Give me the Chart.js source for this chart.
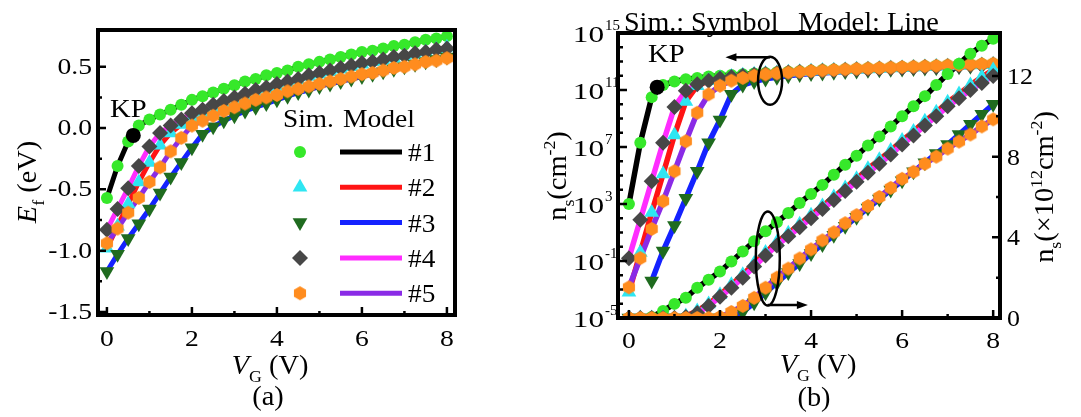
<!DOCTYPE html>
<html>
<head>
<meta charset="utf-8">
<script src="https://cdn.jsdelivr.net/npm/chart.js@4.4.1/dist/chart.umd.min.js"></script>
<style>
  html, body { margin: 0; padding: 0; background: #fff; }
  #wrap { position: relative; width: 1081px; height: 417px; overflow: hidden; background: #fff; }
  canvas { position: absolute; top: 0; }
  #ca { left: 0; }
  #cb { left: 540px; }
</style>
</head>
<body>
<div id="wrap">
  <canvas id="ca" width="540" height="417"></canvas>
  <canvas id="cb" width="541" height="417"></canvas>
</div>
<script>
// gate voltage grid (V)
const vg = [0, 0.25, 0.5, 0.75, 1, 1.25, 1.5, 1.75, 2, 2.25, 2.5, 2.75, 3, 3.25, 3.5, 3.75, 4,
  4.25, 4.5, 4.75, 5, 5.25, 5.5, 5.75, 6, 6.25, 6.5, 6.75, 7, 7.25, 7.5, 7.75, 8];

const devices = ['#1', '#2', '#3', '#4', '#5'];

// (a) Fermi level Ef (eV)
const ef1 = [-0.57, -0.31, -0.11, 0.02, 0.07, 0.11, 0.15, 0.19, 0.23, 0.26, 0.29, 0.32, 0.35, 0.38, 0.40, 0.43, 0.45,
  0.47, 0.50, 0.52, 0.54, 0.56, 0.58, 0.60, 0.62, 0.63, 0.65, 0.67, 0.68, 0.70, 0.72, 0.73, 0.75];
const ef2 = [-0.98, -0.80, -0.62, -0.44, -0.28, -0.14, -0.04, 0.03, 0.08, 0.12, 0.16, 0.20, 0.23, 0.26, 0.29, 0.32, 0.34,
  0.37, 0.39, 0.42, 0.44, 0.46, 0.48, 0.50, 0.52, 0.54, 0.55, 0.57, 0.59, 0.60, 0.62, 0.64, 0.66];
const ef3 = [-1.17, -1.03, -0.90, -0.78, -0.66, -0.53, -0.40, -0.28, -0.16, -0.05, 0.01, 0.06, 0.10, 0.14, 0.17, 0.20, 0.23,
  0.26, 0.29, 0.31, 0.34, 0.36, 0.38, 0.40, 0.42, 0.44, 0.46, 0.48, 0.50, 0.52, 0.54, 0.56, 0.58];
const ef4 = [-0.83, -0.66, -0.49, -0.31, -0.15, -0.04, 0.02, 0.07, 0.12, 0.15, 0.19, 0.22, 0.25, 0.28, 0.31, 0.33, 0.36,
  0.38, 0.40, 0.43, 0.45, 0.47, 0.49, 0.51, 0.53, 0.54, 0.56, 0.58, 0.59, 0.61, 0.62, 0.64, 0.65];
const ef5 = [-0.94, -0.82, -0.69, -0.57, -0.44, -0.32, -0.19, -0.08, 0.02, 0.06, 0.10, 0.14, 0.17, 0.20, 0.23, 0.25, 0.27,
  0.30, 0.32, 0.34, 0.36, 0.38, 0.40, 0.42, 0.44, 0.45, 0.47, 0.49, 0.50, 0.52, 0.54, 0.55, 0.57];

// (b) ns on log axis, written as exponents of 10 (cm^-2)
const nsLog1 = [3.0, 7.3, 10.5, 11.35, 11.6, 11.75, 11.85, 11.95, 12.0, 12.05, 12.1, 12.15, 12.2, 12.24, 12.28, 12.32, 12.36,
  12.4, 12.43, 12.46, 12.49, 12.52, 12.55, 12.58, 12.61, 12.64, 12.67, 12.7, 12.73, 12.76, 12.79, 12.82, 12.85];
const nsLog2 = [-3.2, -0.4, 2.4, 5.1, 7.85, 10.2, 11.3, 11.65, 11.85, 11.95, 12.03, 12.1, 12.15, 12.2, 12.24, 12.28, 12.32,
  12.36, 12.39, 12.42, 12.45, 12.48, 12.51, 12.54, 12.57, 12.6, 12.63, 12.66, 12.69, 12.72, 12.75, 12.78, 12.81];
const nsLog3 = [null, null, -2.4, -0.3, 1.5, 3.4, 5.3, 7.3, 8.9, 10.7, 11.35, 11.6, 11.78, 11.9, 12.0, 12.08, 12.15,
  12.2, 12.25, 12.3, 12.34, 12.38, 12.42, 12.45, 12.48, 12.51, 12.54, 12.57, 12.6, 12.63, 12.66, 12.69, 12.72];
const nsLog4 = [-0.8, 1.9, 4.6, 7.3, 9.8, 10.95, 11.4, 11.65, 11.8, 11.92, 12.0, 12.07, 12.13, 12.18, 12.22, 12.26, 12.3,
  12.34, 12.37, 12.4, 12.43, 12.46, 12.49, 12.52, 12.55, 12.58, 12.61, 12.64, 12.67, 12.7, 12.73, 12.76, 12.79];
const nsLog5 = [-2.85, -0.8, 1.25, 3.2, 5.3, 7.4, 9.4, 10.7, 11.3, 11.65, 11.85, 12.0, 12.1, 12.17, 12.23, 12.28, 12.33,
  12.37, 12.41, 12.45, 12.49, 12.52, 12.55, 12.58, 12.61, 12.64, 12.67, 12.7, 12.73, 12.76, 12.79, 12.82, 12.85];

// (b) ns on linear axis (x10^12 cm^-2)
const nsLin1 = [0, 0, 0.05, 0.35, 0.7, 1.0, 1.5, 1.9, 2.3, 2.8, 3.3, 3.8, 4.3, 4.75, 5.2, 5.7, 6.15,
  6.6, 7.1, 7.6, 8.05, 8.55, 9.0, 9.5, 10.0, 10.5, 11.0, 11.55, 12.1, 12.6, 13.1, 13.5, 13.85];
const nsLin2 = [0, 0, 0, 0, 0, 0.1, 0.35, 0.7, 1.15, 1.65, 2.15, 2.7, 3.25, 3.75, 4.2, 4.65, 5.1,
  5.55, 6.0, 6.45, 6.9, 7.4, 7.85, 8.3, 8.8, 9.25, 9.75, 10.2, 10.7, 11.1, 11.55, 11.95, 12.3];
const nsLin3 = [0, 0, 0, 0, 0, 0, 0, 0, 0, 0, 0.3, 0.75, 1.25, 1.75, 2.25, 2.7, 3.2,
  3.65, 4.1, 4.55, 5.0, 5.45, 5.9, 6.35, 6.8, 7.25, 7.7, 8.15, 8.6, 9.1, 9.6, 10.1, 10.6];
const nsLin4 = [0, 0, 0, 0, 0, 0.05, 0.25, 0.6, 1.05, 1.5, 2.0, 2.55, 3.1, 3.6, 4.05, 4.5, 4.95,
  5.4, 5.85, 6.3, 6.75, 7.2, 7.65, 8.1, 8.6, 9.05, 9.55, 10.0, 10.5, 10.9, 11.3, 11.65, 12.0];
const nsLin5 = [0, 0, 0, 0, 0, 0, 0, 0, 0.05, 0.3, 0.6, 1.0, 1.5, 2.0, 2.45, 2.95, 3.4,
  3.85, 4.25, 4.7, 5.1, 5.55, 6.0, 6.45, 6.9, 7.25, 7.65, 8.0, 8.4, 8.75, 9.1, 9.5, 9.85];

// KP points
const kpVg = [0.62];
const kpEf = [-0.06];
const kpNsLog = [11.2];

// ticks
const vgTicks = [0, 2, 4, 6, 8];
const vgMinor = [1, 3, 5, 7];
const efTicks = [-1.5, -1.0, -0.5, 0.0, 0.5];
const efMinor = [-1.25, -0.75, -0.25, 0.25];
const logTicks = [-5, -1, 3, 7, 11, 15];
const linTicks = [0, 4, 8, 12];
const linMinor = [2, 6, 10];

// annotation loops in panel (b): [vg, value] ; arrows: [vg from, vg to, value]
const loopTop = [3.1, 11.65];
const loopBottom = [3.05, 2.95];
const arrowLeft = [3.1, 2.12, 13.3];
const arrowRight = [3.05, 3.93, 0.64];

const FONT = '"Liberation Serif", "Times New Roman", serif';
const simColors = ['#36e82a', '#2ee6f2', '#1f6b1f', '#474747', '#ff8c1e'];
const modelColors = ['#000000', '#ff1414', '#1422ff', '#ff2cff', '#8a2be6'];

function hexagon(color, r) {
  const c = document.createElement('canvas');
  c.width = c.height = 2 * r + 2;
  const g = c.getContext('2d');
  g.fillStyle = color;
  g.beginPath();
  for (let i = 0; i < 6; i++) {
    const a = Math.PI / 6 + i * Math.PI / 3;
    const x = r + 1 + r * Math.cos(a), y = r + 1 + r * Math.sin(a);
    if (i === 0) g.moveTo(x, y); else g.lineTo(x, y);
  }
  g.closePath();
  g.fill();
  return c;
}

const simShapes = ['circle', 'triangle', 'triangle', 'rectRot', hexagon(simColors[4], 7)];
const simRot = [0, 0, 180, 0, 0];
const simSize = [6, 8.5, 8.5, 8, 7];

function pts(ys, conv) {
  return vg.map((v, i) => ({ x: v, y: ys[i] === null ? null : (conv ? conv(ys[i]) : ys[i]) }));
}
const pow10 = e => Math.pow(10, e);

function rich(ctx, parts, x, y, o) {
  const size = o.size, sx = o.sx || 1.12;
  ctx.save();
  ctx.translate(x, y);
  if (o.rot) ctx.rotate(o.rot);
  ctx.scale(sx, 1);
  ctx.fillStyle = '#000';
  ctx.textBaseline = 'alphabetic';
  ctx.textAlign = 'left';
  const segs = parts.map(p => {
    const t = typeof p === 'string' ? p : p[0];
    const k = typeof p === 'string' ? '' : p[1];
    const small = k === 'sub' || k === 'sup';
    const fs = small ? Math.round(size * 0.62) : size;
    const font = (k === 'i' ? 'italic ' : '') + fs + 'px ' + FONT;
    ctx.font = font;
    return { t, font, w: ctx.measureText(t).width, dy: k === 'sub' ? size * 0.28 : k === 'sup' ? -size * 0.42 : 0 };
  });
  const total = segs.reduce((s, g) => s + g.w, 0);
  let cx = o.align === 'center' ? -total / 2 : o.align === 'right' ? -total : 0;
  segs.forEach(g => { ctx.font = g.font; ctx.fillText(g.t, cx, g.dy); cx += g.w; });
  ctx.restore();
}

function marker(ctx, k, x, y) {
  ctx.fillStyle = simColors[k];
  const opts = { pointStyle: simShapes[k], rotation: simRot[k], radius: simSize[k], borderWidth: 0 };
  if (Chart.helpers && Chart.helpers.drawPoint) {
    Chart.helpers.drawPoint(ctx, opts, x, y);
  } else {
    ctx.beginPath(); ctx.arc(x, y, simSize[k], 0, 2 * Math.PI); ctx.fill();
  }
}

function arrow(ctx, x0, y0, x1, y1) {
  const dir = Math.sign(x1 - x0);
  ctx.beginPath(); ctx.moveTo(x0, y0); ctx.lineTo(x1 - dir * 6, y1); ctx.stroke();
  ctx.beginPath();
  ctx.moveTo(x1, y1);
  ctx.lineTo(x1 - dir * 11, y1 - 4);
  ctx.lineTo(x1 - dir * 11, y1 + 4);
  ctx.closePath(); ctx.fill();
}

function tickLines(ctx, list) {
  ctx.beginPath();
  list.forEach(s => { ctx.moveTo(s[0], s[1]); ctx.lineTo(s[2], s[3]); });
  ctx.stroke();
}

// ---------- panel (a) ----------
const efSeries = [ef1, ef2, ef3, ef4, ef5];
const dsA = [];
efSeries.forEach((ys, k) => dsA.push({
  data: pts(ys), borderColor: modelColors[k], borderWidth: 5, pointRadius: 0,
  showLine: true, tension: 0, order: 20 - k
}));
efSeries.forEach((ys, k) => dsA.push({
  data: pts(ys), showLine: false, pointStyle: simShapes[k], pointRotation: simRot[k],
  pointRadius: simSize[k], pointBackgroundColor: simColors[k], pointBorderWidth: 0, order: 10 - k
}));
dsA.push({
  data: kpVg.map((v, i) => ({ x: v, y: kpEf[i] })), showLine: false,
  pointRadius: 7.5, pointBackgroundColor: '#000', pointBorderWidth: 0, order: 0
});

const frameA = {
  id: 'frameA',
  afterDraw(chart) {
    const ctx = chart.ctx, a = chart.chartArea, xs = chart.scales.x, ys = chart.scales.y;
    ctx.save();
    ctx.strokeStyle = '#000';
    ctx.fillStyle = '#000';
    ctx.lineWidth = 2.5;
    const t = [];
    vgTicks.forEach(v => { const p = xs.getPixelForValue(v); t.push([p, a.bottom, p, a.bottom - 8]); });
    vgMinor.forEach(v => { const p = xs.getPixelForValue(v); t.push([p, a.bottom, p, a.bottom - 4]); });
    efTicks.forEach(v => { const p = ys.getPixelForValue(v); t.push([a.left, p, a.left + 8, p]); });
    efMinor.forEach(v => { const p = ys.getPixelForValue(v); t.push([a.left, p, a.left + 4, p]); });
    tickLines(ctx, t);
    ctx.lineWidth = 4;
    ctx.strokeRect(a.left, a.top, a.right - a.left, a.bottom - a.top);

    vgTicks.forEach(v => rich(ctx, [String(v)], xs.getPixelForValue(v), 346, { size: 24, align: 'center', sx: 1.15 }));
    efTicks.forEach(v => rich(ctx, [v.toFixed(1)], a.left - 6, ys.getPixelForValue(v) + 7, { size: 23, align: 'right', sx: 1.2 }));

    rich(ctx, [['V', 'i'], ['G', 'sub'], ' (V)'], 270, 374, { size: 27, align: 'center', sx: 1.05 });
    rich(ctx, ['(a)'], 268, 405, { size: 27, align: 'center', sx: 1.05 });
    rich(ctx, [['E', 'i'], ['f', 'sub'], ' (eV)'], 36, 182, { size: 27, align: 'center', rot: -Math.PI / 2, sx: 1.05 });
    rich(ctx, ['KP'], 110, 117, { size: 26, align: 'left', sx: 1.1 });

    // legend: Sim. symbols and Model lines
    rich(ctx, ['Sim.'], 283, 127, { size: 26, align: 'left', sx: 1.05 });
    rich(ctx, ['Model'], 343, 127, { size: 26, align: 'left', sx: 1.06 });
    devices.forEach((name, k) => {
      const y = 152 + k * 35.3;
      marker(ctx, k, 300, y);
      ctx.strokeStyle = modelColors[k];
      ctx.lineWidth = 5;
      ctx.beginPath(); ctx.moveTo(340, y); ctx.lineTo(402, y); ctx.stroke();
      rich(ctx, [name], 408, y + 9, { size: 26, align: 'left', sx: 1.05 });
    });
    ctx.restore();
  }
};

new Chart(document.getElementById('ca'), {
  type: 'line',
  data: { datasets: dsA },
  options: {
    responsive: false, animation: false, events: [],
    layout: { padding: { left: 98, right: 85, top: 30, bottom: 102 } },
    plugins: { legend: { display: false }, tooltip: { enabled: false } },
    scales: {
      x: { type: 'linear', display: false, min: -0.21, max: 8.19 },
      y: { type: 'linear', display: false, min: -1.525, max: 0.80 }
    }
  },
  plugins: [frameA]
});

// ---------- panel (b) ----------
const logSeries = [nsLog1, nsLog2, nsLog3, nsLog4, nsLog5];
const linSeries = [nsLin1, nsLin2, nsLin3, nsLin4, nsLin5];
const dsB = [];
logSeries.forEach((ys, k) => dsB.push({
  data: pts(ys, pow10), yAxisID: 'y', borderColor: modelColors[k], borderWidth: 5.5, pointRadius: 0,
  showLine: true, tension: 0, spanGaps: false, order: 30 - k
}));
linSeries.forEach((ys, k) => dsB.push({
  data: pts(ys), yAxisID: 'y2', borderColor: modelColors[k], borderWidth: 5.5, pointRadius: 0,
  showLine: true, tension: 0, order: 20 - k
}));
logSeries.forEach((ys, k) => dsB.push({
  data: pts(ys, pow10), yAxisID: 'y', showLine: false, pointStyle: simShapes[k], pointRotation: simRot[k],
  pointRadius: simSize[k], pointBackgroundColor: simColors[k], pointBorderWidth: 0, order: 15 - k
}));
linSeries.forEach((ys, k) => dsB.push({
  data: pts(ys), yAxisID: 'y2', showLine: false, pointStyle: simShapes[k], pointRotation: simRot[k],
  pointRadius: simSize[k], pointBackgroundColor: simColors[k], pointBorderWidth: 0, order: 10 - k
}));
dsB.push({
  data: kpVg.map((v, i) => ({ x: v, y: pow10(kpNsLog[i]) })), yAxisID: 'y', showLine: false,
  pointRadius: 7.5, pointBackgroundColor: '#000', pointBorderWidth: 0, order: 0
});

const frameB = {
  id: 'frameB',
  afterDraw(chart) {
    const ctx = chart.ctx, a = chart.chartArea, xs = chart.scales.x, yl = chart.scales.y, yr = chart.scales.y2;
    ctx.save();
    ctx.strokeStyle = '#000';
    ctx.fillStyle = '#000';
    ctx.lineWidth = 2.5;
    const t = [];
    vgTicks.forEach(v => { const p = xs.getPixelForValue(v); t.push([p, a.bottom, p, a.bottom - 8]); });
    vgMinor.forEach(v => { const p = xs.getPixelForValue(v); t.push([p, a.bottom, p, a.bottom - 4]); });
    for (let e = logTicks[0]; e <= logTicks[logTicks.length - 1]; e++) {
      const p = yl.getPixelForValue(pow10(e));
      t.push([a.left, p, a.left + (logTicks.includes(e) ? 9 : 5), p]);
    }
    linTicks.forEach(v => { const p = yr.getPixelForValue(v); t.push([a.right, p, a.right - 8, p]); });
    linMinor.forEach(v => { const p = yr.getPixelForValue(v); t.push([a.right, p, a.right - 4, p]); });
    tickLines(ctx, t);
    ctx.lineWidth = 4;
    ctx.strokeRect(a.left, a.top, a.right - a.left, a.bottom - a.top);

    // tick labels
    vgTicks.forEach(v => rich(ctx, [String(v)], xs.getPixelForValue(v), 348, { size: 24, align: 'center', sx: 1.15 }));
    logTicks.forEach(e => {
      const p = yl.getPixelForValue(pow10(e));
      rich(ctx, ['10'], 64, p + 9, { size: 24, align: 'right', sx: 1.3 });
      rich(ctx, [String(e)], 65, p - 3, { size: 15, align: 'left', sx: 1.0 });
    });
    linTicks.forEach(v => rich(ctx, [String(v)], a.right + 7, yr.getPixelForValue(v) + 8, { size: 24, align: 'left', sx: 1.08 }));

    // titles
    rich(ctx, [['V', 'i'], ['G', 'sub'], ' (V)'], 278, 373, { size: 27, align: 'center', sx: 1.05 });
    rich(ctx, ['(b)'], 274, 406, { size: 27, align: 'center', sx: 1.05 });
    rich(ctx, ['n', ['s', 'sub'], '(cm', ['-2', 'sup'], ')'], 26, 176, { size: 27, align: 'center', rot: -Math.PI / 2, sx: 1.05 });
    rich(ctx, ['n', ['s', 'sub'], '(\u00d710', ['12', 'sup'], 'cm', ['-2', 'sup'], ')'], 513, 187, { size: 27, align: 'center', rot: -Math.PI / 2, sx: 1.05 });
    rich(ctx, ['Sim.: Symbol'], 84, 31, { size: 27, align: 'left', sx: 1.04 });
    rich(ctx, ['Model: Line'], 258, 31, { size: 27, align: 'left', sx: 1.05 });
    rich(ctx, ['KP'], 108, 62, { size: 26, align: 'left', sx: 1.1 });

    // loops and arrows
    ctx.lineWidth = 2.5;
    ctx.beginPath();
    ctx.ellipse(xs.getPixelForValue(loopTop[0]), yl.getPixelForValue(pow10(loopTop[1])), 12, 24, 0, 0, 2 * Math.PI);
    ctx.stroke();
    ctx.beginPath();
    ctx.ellipse(xs.getPixelForValue(loopBottom[0]), yr.getPixelForValue(loopBottom[1]), 12, 47, 0, 0, 2 * Math.PI);
    ctx.stroke();
    const ya = yl.getPixelForValue(pow10(arrowLeft[2]));
    arrow(ctx, xs.getPixelForValue(arrowLeft[0]), ya, xs.getPixelForValue(arrowLeft[1]), ya);
    const yb = yr.getPixelForValue(arrowRight[2]);
    arrow(ctx, xs.getPixelForValue(arrowRight[0]), yb, xs.getPixelForValue(arrowRight[1]), yb);
    ctx.restore();
  }
};

new Chart(document.getElementById('cb'), {
  type: 'line',
  data: { datasets: dsB },
  options: {
    responsive: false, animation: false, events: [],
    layout: { padding: { left: 78, right: 81, top: 33, bottom: 99 } },
    plugins: { legend: { display: false }, tooltip: { enabled: false } },
    scales: {
      x: { type: 'linear', display: false, min: -0.24, max: 8.15 },
      y: { type: 'logarithmic', display: false, min: 1e-5, max: 1e15 },
      y2: { type: 'linear', display: false, position: 'right', min: 0, max: 14.13 }
    }
  },
  plugins: [frameB]
});
</script>
</body>
</html>
